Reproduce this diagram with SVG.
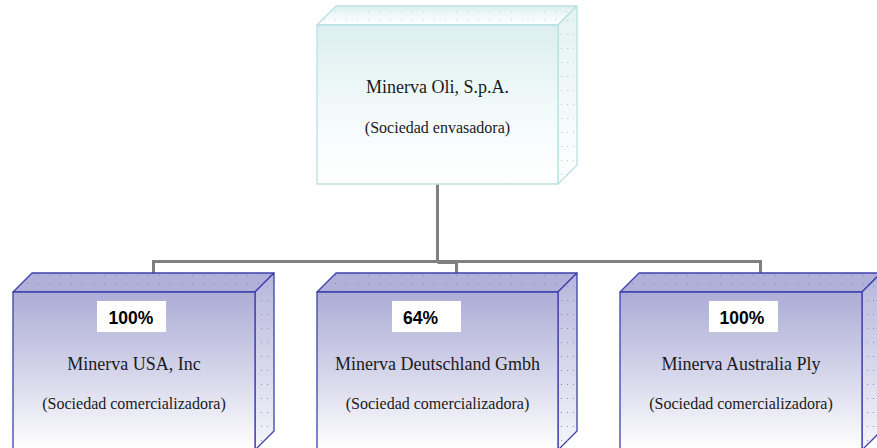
<svg xmlns="http://www.w3.org/2000/svg" width="877" height="448" viewBox="0 0 877 448">
<defs>
<linearGradient id="gTop" x1="0" y1="0" x2="0" y2="1">
<stop offset="0" stop-color="#dcefef"/>
<stop offset="0.55" stop-color="#f3fafa"/>
<stop offset="1" stop-color="#ffffff"/>
</linearGradient>
<linearGradient id="gTopSide" x1="0" y1="0" x2="0" y2="1">
<stop offset="0" stop-color="#e3f2f2"/>
<stop offset="1" stop-color="#ffffff"/>
</linearGradient>
<linearGradient id="gSub" x1="0" y1="0" x2="0" y2="1">
<stop offset="0" stop-color="#acacd6"/>
<stop offset="0.5" stop-color="#d4d4ea"/>
<stop offset="1" stop-color="#ffffff"/>
</linearGradient>
<linearGradient id="gSubSide" x1="0" y1="0" x2="0" y2="1">
<stop offset="0" stop-color="#b6b6dc"/>
<stop offset="1" stop-color="#f6f6fb"/>
</linearGradient>
<pattern id="dotsSub" width="11" height="8" patternUnits="userSpaceOnUse">
<rect x="5" y="3" width="1" height="1" fill="#8888bb"/>
</pattern>
<pattern id="dotsTop" width="11" height="8" patternUnits="userSpaceOnUse">
<rect x="5" y="3" width="1" height="1" fill="#b8d8d8"/>
</pattern>
<pattern id="dotsSideSub" width="6" height="14" patternUnits="userSpaceOnUse">
<rect x="3" y="6" width="1" height="1" fill="#8888bb"/>
</pattern>
<pattern id="dotsSideTop" width="6" height="14" patternUnits="userSpaceOnUse">
<rect x="3" y="6" width="1" height="1" fill="#b0d0d0"/>
</pattern>
</defs>
<style>
.topbox .face{stroke:#b9e0e3;stroke-width:1.3;stroke-linejoin:round}
.sub .face{stroke:#3f3fb0;stroke-width:1.3;stroke-linejoin:round}
.title{font-family:"Liberation Serif","Times New Roman",serif;font-size:18px;fill:#1a1a1a;text-anchor:middle}
.subt{font-family:"Liberation Serif","Times New Roman",serif;font-size:16px;fill:#1a1a1a;text-anchor:middle}
.pct{font-family:"Liberation Sans",Arial,sans-serif;font-size:17.5px;font-weight:bold;fill:#000;text-anchor:middle}
.lbl{fill:#ffffff}
.conn{fill:none;stroke:#808080;stroke-width:3}
</style>

<g id="connectors">
<path class="conn" d="M437.5,184 V261.5"/>
<path class="conn" d="M153.5,261.5 H760.5"/>
<path class="conn" d="M153.5,260 V273"/>
<path class="conn" d="M437.5,262.5 H456.5 V273"/>
<path class="conn" d="M760.5,260 V273"/>
</g>

<g id="node-minerva-oli" class="topbox">
<polygon class="face" points="317,25 336,6 577,6 558,25" fill="url(#gTop)"/>
<polygon points="317,25 336,6 577,6 558,25" fill="url(#dotsTop)"/>
<polygon class="face" points="558,25 577,6 577,165 558,184" fill="url(#gTopSide)"/>
<polygon points="558,25 577,6 577,165 558,184" fill="url(#dotsSideTop)"/>
<rect class="face" x="317" y="25" width="241" height="159" fill="url(#gTop)"/>
<text class="title" x="437.5" y="93">Minerva Oli, S.p.A.</text>
<text class="subt" x="437.5" y="133">(Sociedad envasadora)</text>
</g>

<g id="node-minerva-usa" class="sub">
<polygon class="face" points="13,292 32,273 274,273 255,292" fill="#b0b0d9"/>
<polygon points="13,292 32,273 274,273 255,292" fill="url(#dotsSub)"/>
<polygon class="face" points="255,292 274,273 274,431 255,450" fill="url(#gSubSide)"/>
<polygon points="255,292 274,273 274,431 255,450" fill="url(#dotsSideSub)"/>
<rect class="face" x="13" y="292" width="242" height="158" fill="url(#gSub)"/>
<rect class="lbl" x="97" y="301" width="69" height="31"/>
<text class="pct" x="131" y="323.5">100%</text>
<text class="title" x="134" y="370">Minerva USA, Inc</text>
<text class="subt" x="134" y="409">(Sociedad comercializadora)</text>
</g>

<g id="node-minerva-deutschland" class="sub">
<polygon class="face" points="317,292 336,273 577,273 558,292" fill="#b0b0d9"/>
<polygon points="317,292 336,273 577,273 558,292" fill="url(#dotsSub)"/>
<polygon class="face" points="558,292 577,273 577,431 558,450" fill="url(#gSubSide)"/>
<polygon points="558,292 577,273 577,431 558,450" fill="url(#dotsSideSub)"/>
<rect class="face" x="317" y="292" width="241" height="158" fill="url(#gSub)"/>
<rect class="lbl" x="392" y="301" width="69" height="31"/>
<text class="pct" x="420.5" y="323.5">64%</text>
<text class="title" x="437.5" y="370">Minerva Deutschland Gmbh</text>
<text class="subt" x="437.5" y="409">(Sociedad comercializadora)</text>
</g>

<g id="node-minerva-australia" class="sub">
<polygon class="face" points="620,292 639,273 881,273 862,292" fill="#b0b0d9"/>
<polygon points="620,292 639,273 881,273 862,292" fill="url(#dotsSub)"/>
<polygon class="face" points="862,292 881,273 881,431 862,450" fill="url(#gSubSide)"/>
<polygon points="862,292 881,273 881,431 862,450" fill="url(#dotsSideSub)"/>
<rect class="face" x="620" y="292" width="242" height="158" fill="url(#gSub)"/>
<rect class="lbl" x="709" y="301" width="69" height="31"/>
<text class="pct" x="742" y="323.5">100%</text>
<text class="title" x="741" y="370">Minerva Australia Ply</text>
<text class="subt" x="741" y="409">(Sociedad comercializadora)</text>
</g>
</svg>
